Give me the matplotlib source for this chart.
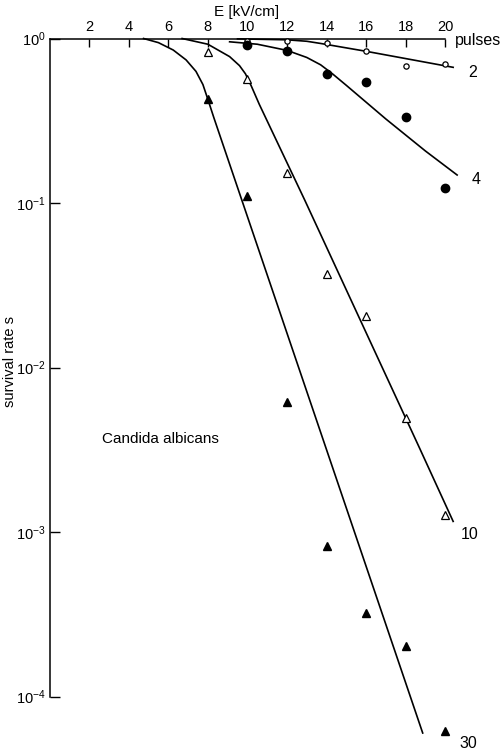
import matplotlib
matplotlib.use("Agg")
import matplotlib.pyplot as plt
from matplotlib.ticker import FixedLocator, NullLocator

plt.rcParams['font.family'] = ['Liberation Sans', 'DejaVu Sans']
plt.rcParams['mathtext.fontset'] = 'custom'
plt.rcParams['mathtext.rm'] = 'Liberation Sans'
plt.rcParams['mathtext.it'] = 'Liberation Sans:italic'
plt.rcParams['mathtext.default'] = 'regular'

# measured survival rates
E_circ = [10, 12, 14, 16, 18, 20]
s_2 = [0.97, 0.97, 0.94, 0.845, 0.68, 0.70]
s_4 = [0.915, 0.845, 0.61, 0.545, 0.333, 0.124]

E_tri = [8, 10, 12, 14, 16, 18, 20]
s_10 = [0.83, 0.57, 0.152, 0.037, 0.0206, 0.0049, 0.00126]
s_30 = [0.43, 0.111, 0.0062, 0.00082, 0.00032, 0.000204, 0.000062]

# fitted curves, vertices
fit2_E = [9.5, 12.0, 13.0, 13.7, 16.0, 18.0, 20.4]
fit2_s = [0.995, 0.982, 0.962, 0.933, 0.836, 0.755, 0.668]
fit4_E = [9.1, 10.5, 12.0, 13.0, 13.7, 14.3, 15.0, 17.0, 19.0, 20.6]
fit4_s = [0.955, 0.923, 0.847, 0.767, 0.692, 0.61, 0.519, 0.324, 0.207, 0.148]
fit10_E = [6.7, 8.0, 9.1, 9.6, 9.9, 10.2, 10.6, 12.9, 18.7, 20.4]
fit10_s = [1.0, 0.923, 0.776, 0.684, 0.61, 0.513, 0.398, 0.104, 0.00324, 0.00116]
fit30_E = [4.75, 5.5, 6.25, 6.9, 7.4, 7.75, 8.0, 8.3, 18.86]
fit30_s = [1.0, 0.944, 0.851, 0.741, 0.631, 0.525, 0.427, 0.331, 0.00006]

xticks = [2, 4, 6, 8, 10, 12, 14, 16, 18, 20]
yticks = [1, 0.1, 0.01, 0.001, 0.0001]
ylabels = ['$10^{0}$', '$10^{-1}$', '$10^{-2}$', '$10^{-3}$', '$10^{-4}$']

fig = plt.figure(figsize=(5.04, 7.52), dpi=100)
ax = fig.add_axes([0.0984, 0.0016, 0.891, 0.9472])
ax.set_yscale('log')
ax.set_xlim(0, 22.7)
ax.set_ylim(10 ** -4.33, 1)

lw = 1.2
ax.plot(fit2_E, fit2_s, color='black', lw=lw, clip_on=False)
ax.plot(fit4_E, fit4_s, color='black', lw=lw, clip_on=False)
ax.plot(fit10_E, fit10_s, color='black', lw=lw, clip_on=False)
ax.plot(fit30_E, fit30_s, color='black', lw=lw, clip_on=False)

ax.plot(E_circ, s_2, 'o', ms=3.8, mfc='white', mec='black', mew=0.9, clip_on=False, zorder=5)
ax.plot(E_circ, s_4, 'o', ms=6, color='black', clip_on=False, zorder=5)
ax.plot(E_tri, s_10, '^', ms=6, mfc='white', mec='black', mew=0.9, clip_on=False, zorder=5)
ax.plot(E_tri, s_30, '^', ms=5.5, color='black', clip_on=False, zorder=5)

# spines and ticks
ax.spines['right'].set_visible(False)
ax.spines['bottom'].set_visible(False)
ax.spines['top'].set_bounds(0, 20)
ax.spines['left'].set_bounds(1e-4, 1)
ax.spines['top'].set_linewidth(1.1)
ax.spines['left'].set_linewidth(1.1)

ax.xaxis.set_ticks_position('top')
ax.xaxis.set_label_position('top')
ax.set_xticks(xticks)
ax.set_xticklabels([str(t) for t in xticks])
ax.tick_params(axis='x', direction='in', length=6, width=1, labelsize=10.5, pad=3)

ax.yaxis.set_major_locator(FixedLocator(yticks))
ax.yaxis.set_minor_locator(NullLocator())
ax.set_yticklabels(ylabels)
ax.tick_params(axis='y', direction='in', length=7, width=1, labelsize=10.5, pad=3)

# labels
fig.text(0.49, 0.984, 'E [kV/cm]', ha='center', va='center', fontsize=11)
fig.text(0.02, 0.519, 'survival rate s', rotation=90, ha='center', va='center', fontsize=10.5)
ax.text(2.63, 0.00367, 'Candida albicans', ha='left', va='center', fontsize=11)

ax.text(20.5, 0.975, 'pulses', ha='left', va='center', fontsize=11.5)
ax.text(21.4, 0.625, '2', ha='center', va='center', fontsize=11.5)
ax.text(21.54, 0.138, '4', ha='center', va='center', fontsize=11.5)
ax.text(21.25, 0.00097, '10', ha='center', va='center', fontsize=11.5)
ax.text(21.15, 0.000052, '30', ha='center', va='center', fontsize=11.5)

fig.savefig('out.png', dpi=100)
